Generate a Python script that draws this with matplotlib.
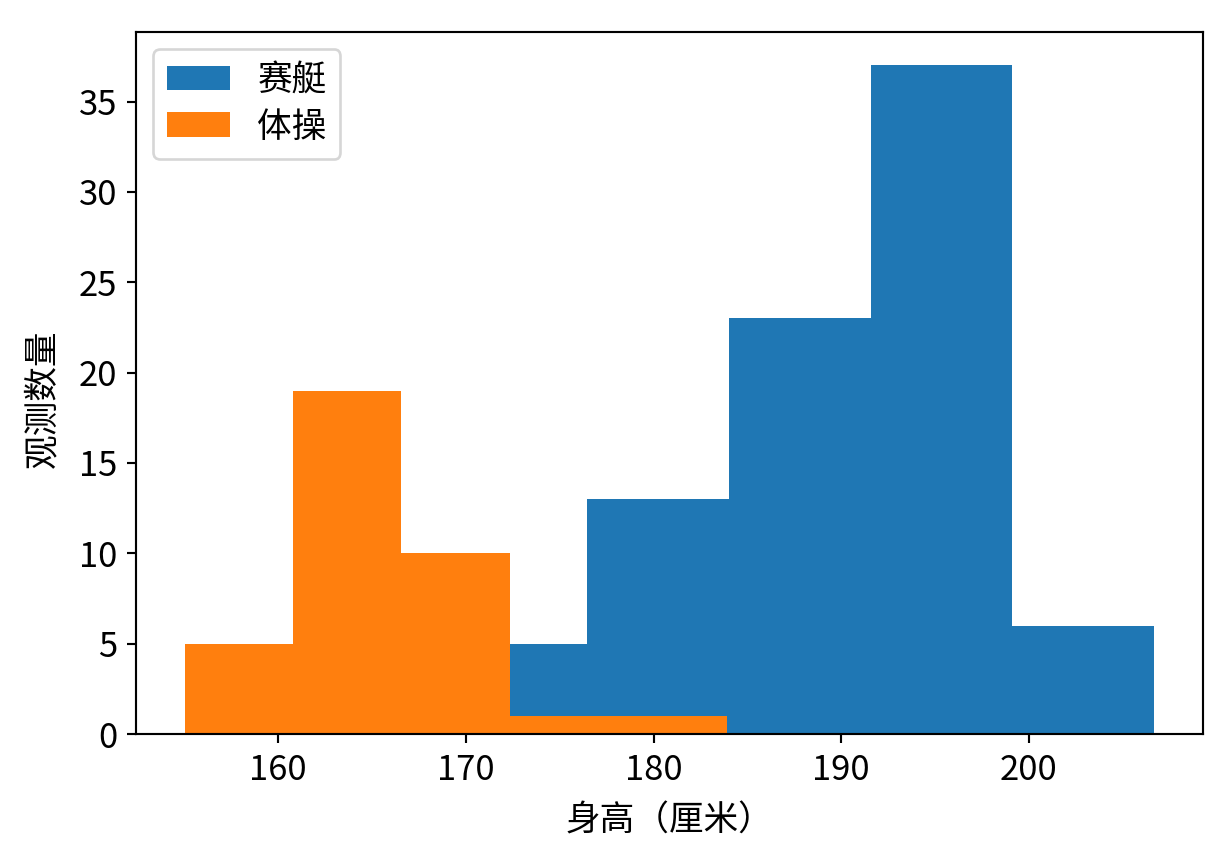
import numpy as np
import matplotlib
matplotlib.use("Agg")
import matplotlib.pyplot as plt

plt.rcParams['font.family'] = ['Noto Sans CJK SC', 'DejaVu Sans']
plt.rcParams['font.size'] = 13

# 赛艇 (rowing) heights histogram
rowing_edges = [168.9, 176.46, 184.0, 191.6, 199.1, 206.7]
rowing_counts = [5, 13, 23, 37, 6]
# 体操 (gymnastics) heights histogram
gym_edges = [155.0, 160.78, 166.56, 172.34, 178.12, 183.9]
gym_counts = [5, 19, 10, 1, 1]

fig = plt.figure(figsize=(1229 / 192, 848 / 192), dpi=192)
ax = fig.add_axes([136 / 1229, 1 - 734 / 848, (1203 - 136) / 1229, (734 - 32) / 848])

ax.hist(rowing_edges[:-1], bins=rowing_edges, weights=rowing_counts, label='赛艇')
ax.hist(gym_edges[:-1], bins=gym_edges, weights=gym_counts, label='体操')

ax.set_xlabel('身高（厘米）', labelpad=6)
ax.set_ylabel('观测数量', labelpad=7)
ax.yaxis.label.set_y(0.478)
ax.legend(loc='upper left', handlelength=1.8, labelspacing=0.33)

fig.savefig('out.png', dpi=192)
